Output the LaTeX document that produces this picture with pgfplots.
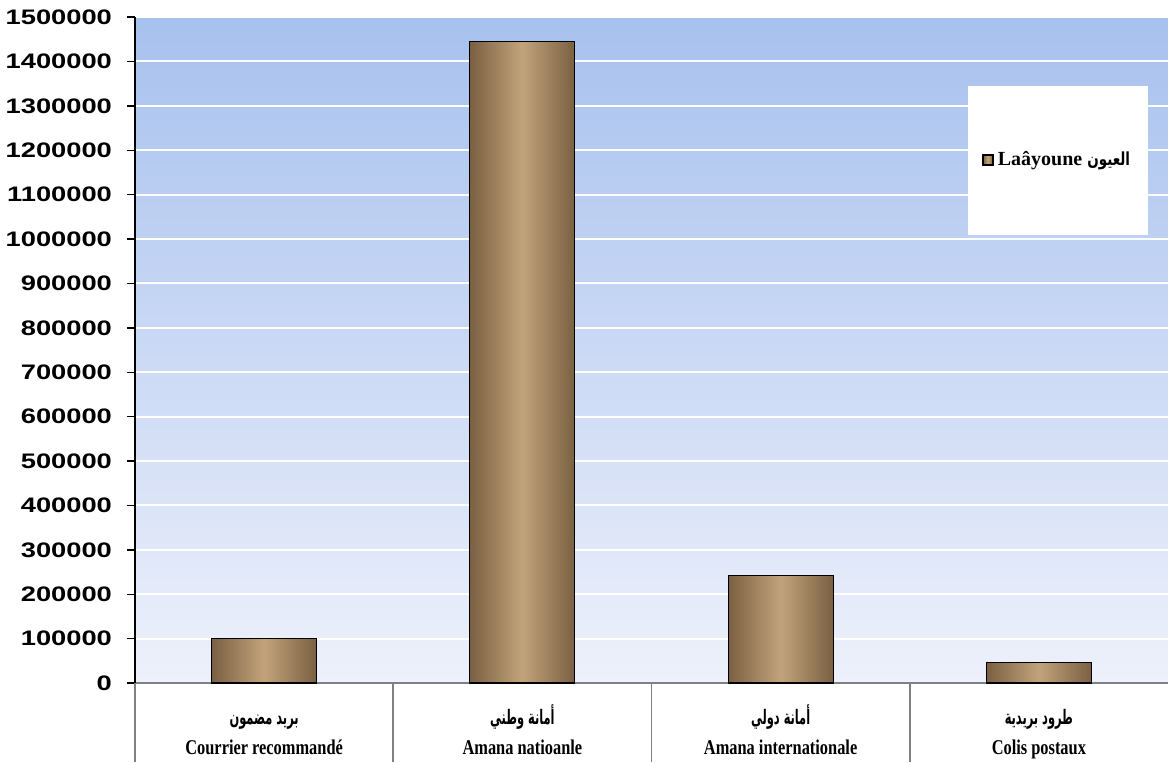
\documentclass[border=0pt]{standalone}
\usepackage{pgfplots}
\pgfplotsset{compat=1.18}
\usepackage{graphicx}
\usepackage{fontspec}
\setmainfont{Liberation Serif}
\newfontfamily\sansfont{Liberation Sans}
\newfontfamily\arabicfont[Script=Arabic]{DejaVu Sans}
\TeXXeTstate=1

\definecolor{bgtop}{HTML}{A7C1EE}
\definecolor{bgbot}{HTML}{EEF1FB}
\definecolor{barL}{HTML}{C2A37B}
\definecolor{barD}{HTML}{7A6042}
\definecolor{legtan}{HTML}{E2C39A}

\newcommand{\arf}{\arabicfont\bfseries\fontsize{10}{11}\selectfont}
\newcommand{\fr}[1]{\raisebox{0pt}[8pt][2.5pt]{\scalebox{0.78}[1]{\bfseries #1}}}
\newcommand{\arl}[1]{\raisebox{0pt}[9pt][4pt]{\scalebox{0.57}[1]{#1}}}

\pgfplotsset{barstyle/.style={draw=black, line width=0.6pt, bar shift=0pt,
  left color=barD, right color=barD, middle color=barL}}

\begin{document}
\begin{tikzpicture}
\begin{axis}[
  scale only axis, width=516.5pt, height=333pt,
  xmin=0.5, xmax=4.5, ymin=0, ymax=1500000,
  axis lines*=left, axis line style={-},
  x axis line style={draw=gray, line width=1pt},
  y axis line style={draw=black, line width=0.7pt},
  axis background/.style={top color=bgtop, bottom color=bgbot},
  ymajorgrids, grid style={white, line width=1pt},
  ytick distance=100000, scaled y ticks=false,
  tick align=outside, major tick length=4pt,
  ytick style={black, line width=0.7pt},
  yticklabel={\scalebox{1.3}[1]{\pgfmathprintnumber[fixed, precision=0, 1000 sep={}, assume math mode=true]{\tick}}},
  yticklabel style={font=\sansfont\bfseries\fontsize{10.5}{12}\selectfont, xshift=-4pt},
  xtick={1,2,3,4},
  xticklabels={
    {\arl{\arf\beginR بريد مضمون\endR}\\[3pt]\fr{Courrier recommandé}},
    {\arl{\arf\beginR أمانة وطني\endR}\\[3pt]\fr{Amana natioanle}},
    {\arl{\arf\beginR أمانة دولي\endR}\\[3pt]\fr{Amana internationale}},
    {\arl{\arf\beginR طرود بريدية\endR}\\[3pt]\fr{Colis postaux}}},
  xticklabel style={align=center, font=\fontsize{10.5}{12}\selectfont, yshift=-4pt},
  major x tick style={draw=none},
  ybar, bar width=52.5pt,
  clip=false,
  legend style={at={(rel axis cs:0.8935,0.785)}, anchor=center, fill=white, draw=none,
    inner xsep=7pt, inner ysep=31pt, font=\bfseries\fontsize{10}{12}\selectfont},
  legend image code/.code={\draw[fill=legtan, draw=black, line width=1pt] (0pt,-2.5pt) rectangle (5pt,2.5pt);},
]
\addplot[barstyle] coordinates {(1,101000)};
\addlegendentry{Laâyoune \scalebox{0.75}[1]{\arf\fontsize{9}{11}\selectfont\beginR العيون\endR}}
\addplot[barstyle, forget plot] coordinates {(2,1444000)};
\addplot[barstyle, forget plot] coordinates {(3,243000)};
\addplot[barstyle, forget plot] coordinates {(4,46800)};
\draw[gray, line width=0.8pt] (axis cs:0.5,0) -- ++(0pt,-39.5pt);
\draw[gray, line width=0.8pt] (axis cs:1.5,0) -- ++(0pt,-39.5pt);
\draw[gray, line width=0.8pt] (axis cs:2.5,0) -- ++(0pt,-39.5pt);
\draw[gray, line width=0.8pt] (axis cs:3.5,0) -- ++(0pt,-39.5pt);
\end{axis}
\pgfresetboundingbox
\path[use as bounding box] (-67.5pt,-39.5pt) rectangle (516.5pt,341.5pt);
\end{tikzpicture}
\end{document}
